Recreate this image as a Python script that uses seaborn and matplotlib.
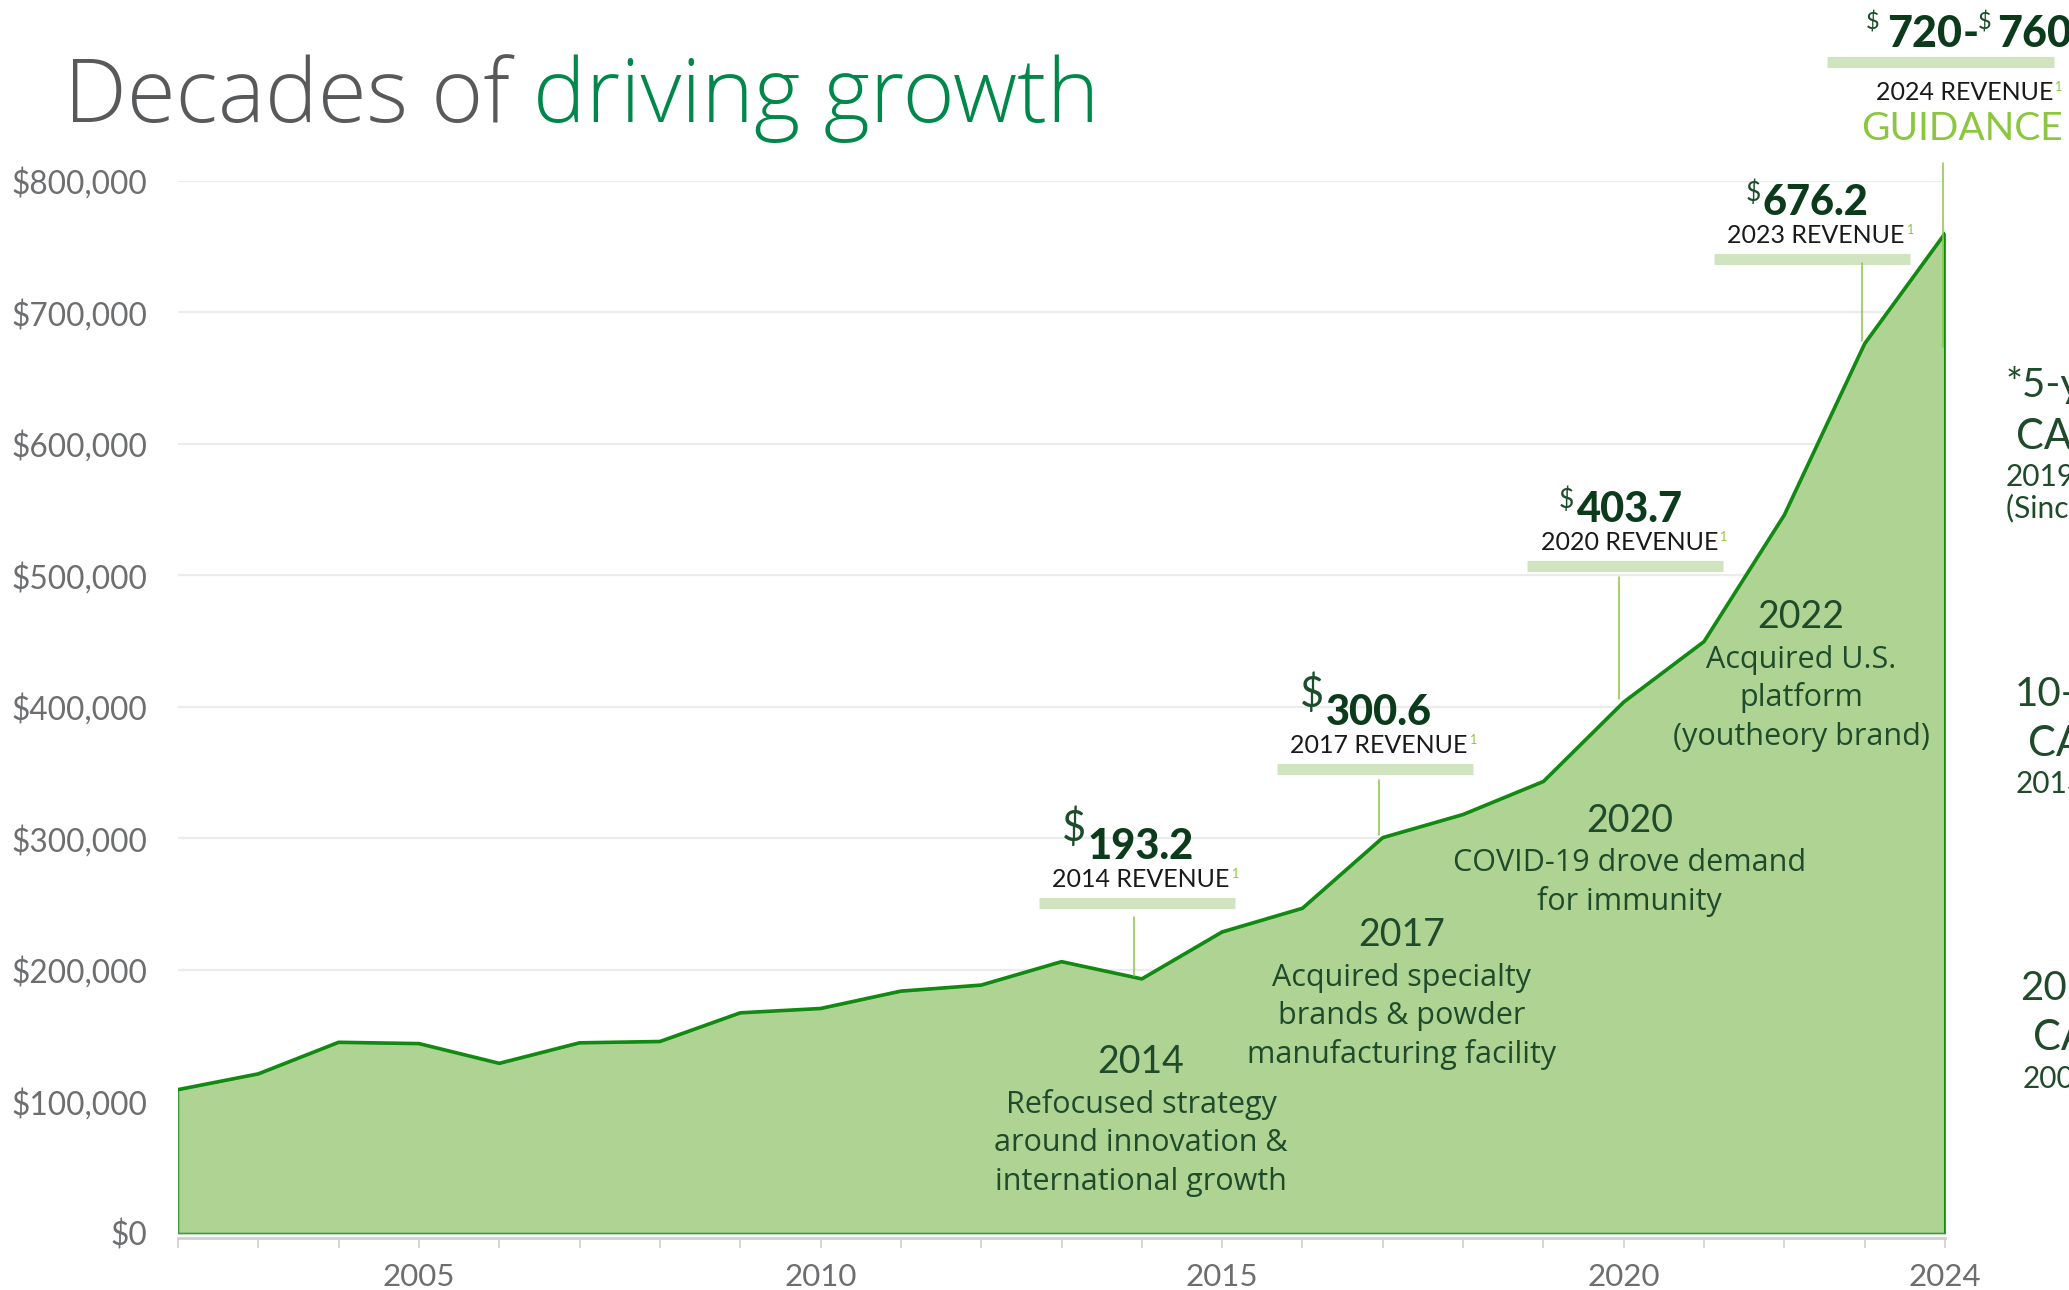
import matplotlib
matplotlib.use("Agg")
import matplotlib.pyplot as plt
from matplotlib.ticker import FuncFormatter
import seaborn as sns

# ---------------- data ----------------
years = list(range(2002, 2025))
revenue = [109000, 121000, 145000, 144000, 129000, 144600, 145600, 167400, 170700,
           183900, 188500, 206300, 193200, 228900, 246900, 300600, 318200, 343300,
           403700, 449700, 546000, 676200, 760000]
label_years = [2005, 2010, 2015, 2020, 2024]
y_ticks = [0, 100000, 200000, 300000, 400000, 500000, 600000, 700000, 800000]

callout_years = [2014, 2017, 2020, 2023]
callout_numbers = ["193.2", "300.6", "403.7", "676.2"]
callout_labels = ["2014 REVENUE", "2017 REVENUE", "2020 REVENUE", "2023 REVENUE"]

guidance_low = "720"
guidance_high = "760"
guidance_label = "2024 REVENUE"
guidance_word = "GUIDANCE"

event_years = ["2014", "2017", "2020", "2022"]
event_texts = ["Refocused strategy\naround innovation &\ninternational growth",
               "Acquired specialty\nbrands & powder\nmanufacturing facility",
               "COVID-19 drove demand\nfor immunity",
               "Acquired U.S.\nplatform\n(youtheory brand)"]

cagr_blocks = [["*5-year", "CAGR", "2019-2024", "(Since COVID)"],
               ["10-year", "CAGR", "2013-2023"],
               ["20-year", "CAGR", "2003-2023"]]

# ---------------- layout (positions / styles) ----------------
W, H = 2069, 1290
bar_x = [2013.94, 2016.90, 2020.02, 2022.34]
bar_y = [250600, 352900, 506800, 740300]
bar_half = 1.22
leader_x = [2013.90, 2016.95, 2019.94, 2022.97]
leader_top = [240300, 344500, 498900, 737600]
dollar_size = [30, 30, 19, 19]
dollar_raise = [15, 14.5, 3, 3]

event_x = [2013.99, 2017.23, 2020.07, 2022.21]
event_base = [121500, 218000, 305000, 459800]

fill_c = "#aed393"
line_c = "#128a12"
bar_c = "#cfe4bf"
leader_c = "#8cc63f"
num_c = "#0c3b1c"
ev_c = "#1f4b2b"
gray_c = "#6d6e70"
desc_font = ["Open Sans", "Lato", "DejaVu Sans"]

sns.set_style("white")
plt.rcParams["font.family"] = ["Lato", "DejaVu Sans"]

fig = plt.figure(figsize=(W / 100, H / 100), dpi=100)
ax = fig.add_axes([178 / W, 1 - 1237.6 / H, (1945 - 178) / W, (1237.6 - 180.8) / H])

# area + line
ax.fill_between(years, revenue, 0, facecolor=fill_c, edgecolor="#3f9b3f", linewidth=1.2, zorder=2)
sns.lineplot(x=years, y=revenue, ax=ax, color=line_c, linewidth=2.6, zorder=3, legend=False)
ax.vlines(years[-1], 0, revenue[-1], color=line_c, linewidth=2.2, zorder=3)

ax.set_xlim(2002, 2024)
ax.set_ylim(-3500, 800000)
ax.set_xlabel("")
ax.set_ylabel("")

ax.set_yticks(y_ticks)
ax.yaxis.set_major_formatter(FuncFormatter(lambda v, p: f"${v:,.0f}"))
ax.set_xticks(years)
ax.set_xticklabels([str(y) if y in label_years else "" for y in years])
ax.yaxis.grid(True, color="#ececec", linewidth=1.6)
ax.xaxis.grid(False)
ax.set_axisbelow(True)
for s in ["left", "right", "top"]:
    ax.spines[s].set_visible(False)
ax.spines["bottom"].set_color("#d0d0d0")
ax.spines["bottom"].set_linewidth(2)
ax.tick_params(axis="x", length=7.2, width=1.2, color="#d0d0d0", pad=11,
               labelsize=22.5, labelcolor=gray_c, bottom=True)
ax.tick_params(axis="y", length=0, pad=22.3, labelsize=22.8, labelcolor=gray_c)

# ---------------- callouts ----------------
for i in range(len(callout_years)):
    bx, by = bar_x[i], bar_y[i]
    val = revenue[years.index(callout_years[i])]
    ax.plot([bx - bar_half, bx + bar_half], [by, by], color=bar_c, lw=8,
            solid_capstyle="butt", clip_on=False, zorder=4)
    ax.plot([leader_x[i]] * 2, [leader_top[i], val + 2000], color=leader_c, lw=1.1, zorder=4)
    t_lab = ax.annotate(callout_labels[i], xy=(bx, by), xytext=(3, 11.5), textcoords="offset points",
                        ha="center", va="baseline", fontsize=18, color="#1a1a1a",
                        annotation_clip=False, zorder=6)
    ax.annotate("1", xy=(1, 1), xycoords=t_lab, xytext=(1.5, 0), textcoords="offset points",
                ha="left", va="top", fontsize=9, color=leader_c, zorder=6)
    t_num = ax.annotate(callout_numbers[i], xy=(bx, by), xytext=(3, 31.7), textcoords="offset points",
                        ha="center", va="baseline", fontsize=30, fontweight="black", color=num_c,
                        annotation_clip=False, zorder=6)
    ax.annotate("$", xy=(0, 1), xycoords=t_num, xytext=(-1.5, dollar_raise[i]), textcoords="offset points",
                ha="right", va="top", fontsize=dollar_size[i], fontweight="normal", color="#1d4d2b", zorder=6)

# guidance block (2024)
ax.plot([2022.53, 2025.36], [890500, 890500], color=bar_c, lw=8, solid_capstyle="butt", clip_on=False, zorder=4)
ax.plot([2023.98, 2023.98], [813700, 673800], color=leader_c, lw=1.1, clip_on=False, zorder=4)
g1 = ax.text(2023.277, 901900, guidance_low, ha="left", va="baseline", fontsize=31,
             fontweight="black", color=num_c, zorder=6)
ax.annotate("$", xy=(0, 1), xycoords=g1, xytext=(-5.5, 1.5), textcoords="offset points",
            ha="right", va="top", fontsize=17, fontweight="normal", color="#1d4d2b")
ax.text(2024.215, 901900, "-", ha="left", va="baseline", fontsize=31,
        fontweight="black", color=num_c, zorder=6)
g2 = ax.text(2024.647, 901900, guidance_high, ha="left", va="baseline", fontsize=31,
             fontweight="black", color=num_c, zorder=6)
ax.annotate("$", xy=(0, 1), xycoords=g2, xytext=(-4, 1.5), textcoords="offset points",
            ha="right", va="top", fontsize=17, fontweight="normal", color="#1d4d2b")
gl = ax.text(2024.24, 861600, guidance_label, ha="center", va="baseline", fontsize=18,
             color="#1a1a1a", zorder=6)
ax.annotate("1", xy=(1, 1), xycoords=gl, xytext=(1.5, 0), textcoords="offset points",
            ha="left", va="top", fontsize=9, color=leader_c)
ax.text(2024.21, 831200, guidance_word, ha="center", va="baseline", fontsize=28,
        fontweight="normal", color=leader_c, zorder=6)

# ---------------- event labels ----------------
for i in range(len(event_years)):
    ex, ey = event_x[i], event_base[i]
    ax.text(ex, ey, event_years[i], ha="center", va="baseline", fontsize=27, color=ev_c, zorder=5)
    for j, line in enumerate(event_texts[i].split("\n")):
        ax.annotate(line, xy=(ex, ey), xytext=(0, -28.4 - j * 27.7), textcoords="offset points",
                    ha="center", va="baseline", fontsize=22, color=ev_c, zorder=5,
                    family=desc_font, annotation_clip=False)

# ---------------- title ----------------
t1 = fig.text(64 / W, 1 - 122 / H, "Decades of", fontsize=64, fontweight="light",
              family=desc_font, color="#58595b", ha="left", va="baseline")
ax.annotate("driving growth", xy=(1, 0), xycoords=t1, xytext=(17, 0), textcoords="offset points",
            ha="left", va="bottom", fontsize=64, fontweight="light", family=desc_font, color="#00874a")

# ---------------- right-hand CAGR blocks (cropped at figure edge) ----------------
block_pos = [[(2005.6, 397, 29), (2016, 448.6, 30), (2005.6, 485.6, 21.5), (2005.6, 517, 21.5)],
             [(2014.9, 706, 29), (2028, 756, 30), (2016, 793, 21.5)],
             [(2020, 1000, 29), (2033, 1050, 30), (2023, 1088.5, 21.5)]]
for blk, pos in zip(cagr_blocks, block_pos):
    for txt, (px, py, fs) in zip(blk, pos):
        fig.text(px / W, 1 - py / H, txt, fontsize=fs, color=ev_c, ha="left", va="baseline")

fig.savefig("out.png", dpi=100)
